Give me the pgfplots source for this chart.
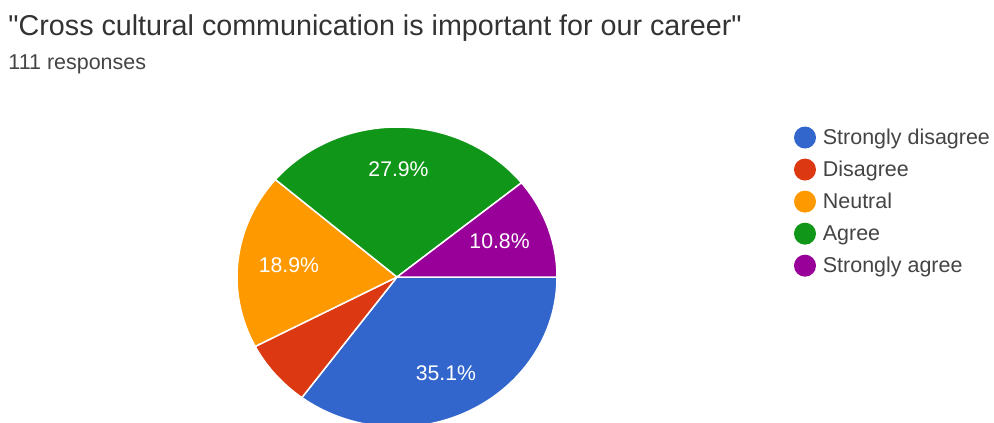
\documentclass[border=0pt]{standalone}
\usepackage{pgfplots}
\usepackage{pgfplotstable}
\pgfplotsset{compat=1.18}
\usepackage{fontspec}
\setmainfont{Liberation Sans}
\newfontfamily\gfont{Liberation Sans}

\definecolor{gblue}{HTML}{3366CC}
\definecolor{gred}{HTML}{DC3912}
\definecolor{gorange}{HTML}{FF9900}
\definecolor{ggreen}{HTML}{109618}
\definecolor{gpurple}{HTML}{990099}
\definecolor{titlecol}{HTML}{333333}
\definecolor{subcol}{HTML}{444444}

% responses per answer, in drawing order (clockwise from 3 o'clock)
\pgfplotstableread[col sep=comma]{
name,count,color
Strongly disagree,39,gblue
Disagree,8,gred
Neutral,21,gorange
Agree,31,ggreen
Strongly agree,12,gpurple
}\piedata

\begin{document}
\begin{tikzpicture}
\pgfkeys{/pgf/number format/assume math mode=true}
\pgfplotstablegetrowsof{\piedata}
\pgfmathtruncatemacro\lastrow{\pgfplotsretval-1}
\def\total{0}
\pgfplotsforeachungrouped \i in {0,...,\lastrow}{%
  \pgfplotstablegetelem{\i}{count}\of\piedata
  \pgfmathsetmacro\total{\total+\pgfplotsretval}%
}
\def\acc{0}
\pgfplotsforeachungrouped \i in {0,...,\lastrow}{%
  \pgfplotstablegetelem{\i}{count}\of\piedata
  \let\cnt\pgfplotsretval
  \pgfmathsetmacro\sa{-(\acc/\total)*360}%
  \pgfmathsetmacro\acc{\acc+\cnt}%
  \pgfmathsetmacro\ea{-(\acc/\total)*360}%
  \pgfmathsetmacro\ma{(\sa+\ea)/2}%
  \pgfmathsetmacro\pct{(\cnt/\total)*100}%
  \pgfmathprintnumberto[fixed,precision=1,fixed zerofill]{\pct}{\pcttxt}%
  \expandafter\xdef\csname sa\i\endcsname{\sa}%
  \expandafter\xdef\csname ea\i\endcsname{\ea}%
  \expandafter\xdef\csname ma\i\endcsname{\ma}%
  \expandafter\xdef\csname pv\i\endcsname{\pct}%
  \expandafter\xdef\csname pt\i\endcsname{\pcttxt\%}%
  \pgfplotstablegetelem{\i}{color}\of\piedata
  \expandafter\xdef\csname col\i\endcsname{\pgfplotsretval}%
  \pgfplotstablegetelem{\i}{name}\of\piedata
  \expandafter\xdef\csname nm\i\endcsname{\pgfplotsretval}%
}
\begin{axis}[
  width=14cm, height=5.944cm, scale only axis,
  xmin=0, xmax=994, ymin=0, ymax=422, y dir=reverse,
  hide axis, clip=true,
  legend style={at={(axis cs:793,126)}, anchor=north west, draw=none,
    fill=none, inner sep=0pt, row sep=4pt,
    font=\fontsize{8.6}{10}\selectfont, text=subcol,
    legend cell align=left,
    nodes={inner ysep=0pt}},
  legend image code/.code={\draw[#1,draw=none] (0.155cm,0.02cm) circle[radius=0.155cm];
    \path (0cm,0cm) (0.33cm,0cm);},
]
\pgfplotsinvokeforeach{0,...,\lastrow}{
  \edef\tmp{\noexpand\fill[fill=\csname col#1\endcsname, draw=white, line width=0.6pt]
    (axis cs:397,277) -- ++(\csname sa#1\endcsname:2.2535cm and 2.1127cm)
    arc[start angle=\csname sa#1\endcsname, end angle=\csname ea#1\endcsname,
        x radius=2.2535cm, y radius=2.1127cm] -- cycle;}
  \tmp
}
\pgfplotsinvokeforeach{0,...,\lastrow}{
  \edef\tmp{\noexpand\addlegendimage{fill=\csname col#1\endcsname}}
  \tmp
  \edef\tmp{\noexpand\addlegendentry{\csname nm#1\endcsname}}
  \tmp
}
\pgfplotsinvokeforeach{0,...,\lastrow}{
  \ifdim\csname pv#1\endcsname pt<8pt\else
  \edef\tmp{\noexpand\path (axis cs:397,277) ++(\csname ma#1\endcsname:1.532cm and 1.521cm)
    node[text=white, font=\noexpand\fontsize{8.5}{10}\noexpand\selectfont]
    {\csname pt#1\endcsname};}
  \tmp
  \fi
}
\node[anchor=base west, inner sep=0pt, text=titlecol,
  font=\gfont\fontsize{11.5}{13}\selectfont] at (axis cs:8,35)
  {"Cross cultural communication is important for our career"};
\node[anchor=base west, inner sep=0pt, text=subcol,
  font=\fontsize{8.6}{10}\selectfont] at (axis cs:8,69) {111 responses};
\end{axis}
\pgfresetboundingbox
\path (current axis.south west) rectangle (current axis.north east);
\end{tikzpicture}
\end{document}
